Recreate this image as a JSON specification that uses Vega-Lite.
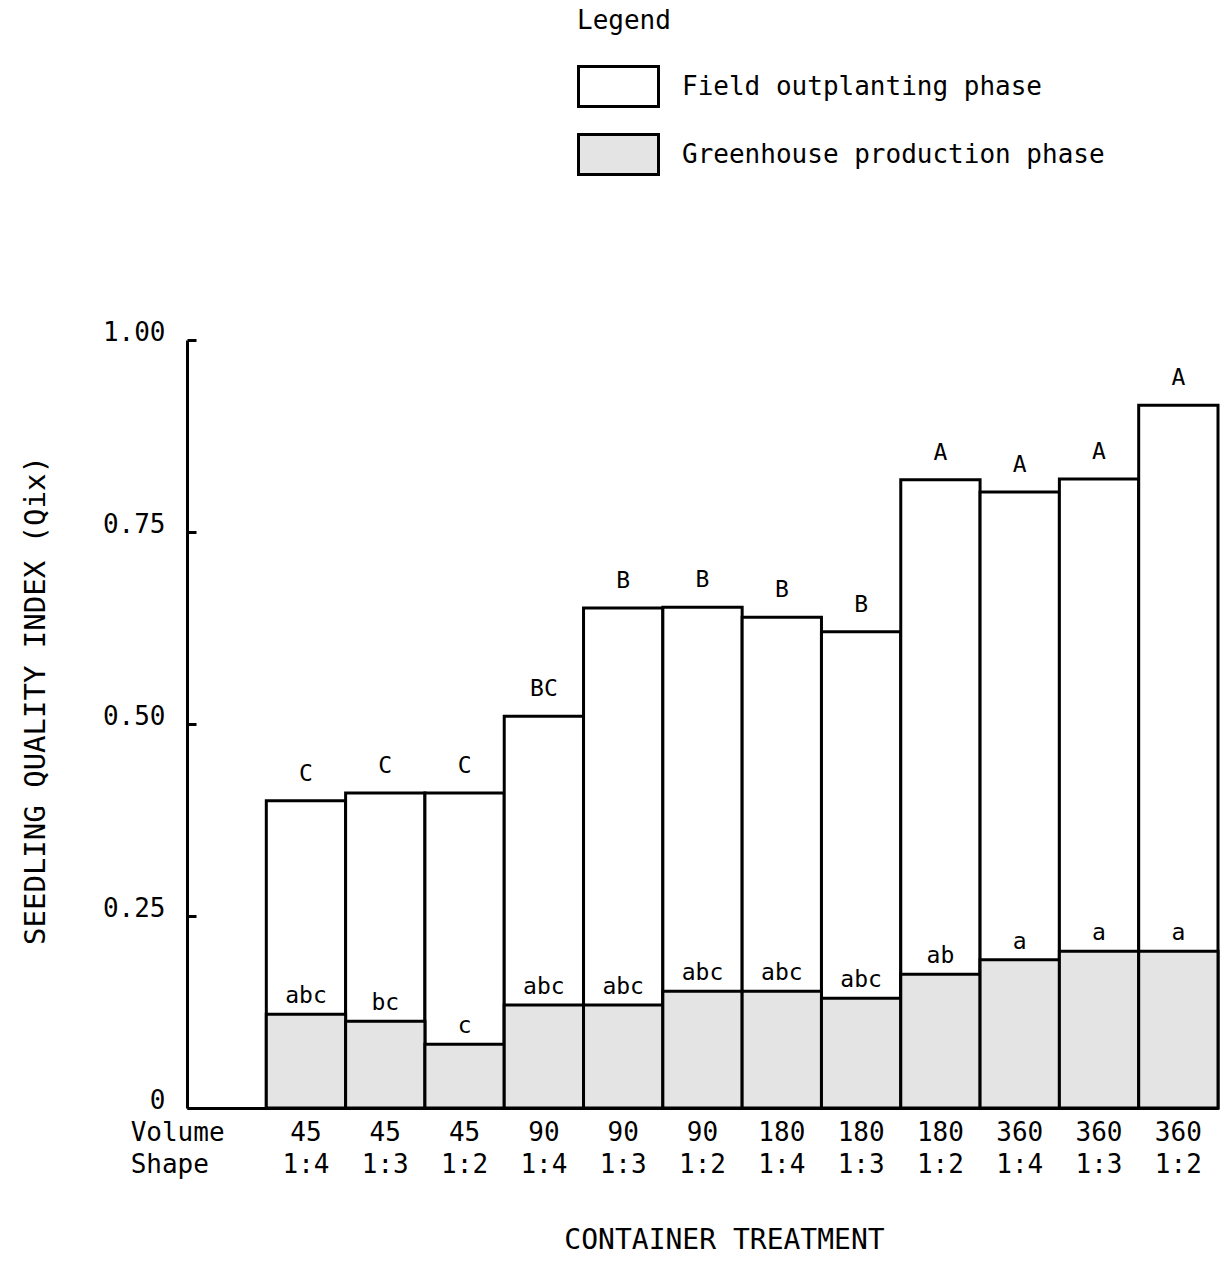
{
  "$schema": "https://vega.github.io/schema/vega-lite/v6.json",
  "width": 1031,
  "height": 768,
  "autosize": {"type": "none"},
  "padding": {"left": 187, "top": 340, "right": 12, "bottom": 153},
  "background": "white",
  "config": {"view": {"stroke": null}, "font": "DejaVu Sans Mono"},
  "data": {
    "values": [
      {"treatment": "45|1:4", "total": 0.40, "greenhouse": 0.122, "field_group": "C", "gh_group": "abc"},
      {"treatment": "45|1:3", "total": 0.41, "greenhouse": 0.113, "field_group": "C", "gh_group": "bc"},
      {"treatment": "45|1:2", "total": 0.41, "greenhouse": 0.083, "field_group": "C", "gh_group": "c"},
      {"treatment": "90|1:4", "total": 0.51, "greenhouse": 0.134, "field_group": "BC", "gh_group": "abc"},
      {"treatment": "90|1:3", "total": 0.651, "greenhouse": 0.134, "field_group": "B", "gh_group": "abc"},
      {"treatment": "90|1:2", "total": 0.652, "greenhouse": 0.152, "field_group": "B", "gh_group": "abc"},
      {"treatment": "180|1:4", "total": 0.639, "greenhouse": 0.152, "field_group": "B", "gh_group": "abc"},
      {"treatment": "180|1:3", "total": 0.62, "greenhouse": 0.143, "field_group": "B", "gh_group": "abc"},
      {"treatment": "180|1:2", "total": 0.818, "greenhouse": 0.174, "field_group": "A", "gh_group": "ab"},
      {"treatment": "360|1:4", "total": 0.802, "greenhouse": 0.193, "field_group": "A", "gh_group": "a"},
      {"treatment": "360|1:3", "total": 0.819, "greenhouse": 0.204, "field_group": "A", "gh_group": "a"},
      {"treatment": "360|1:2", "total": 0.915, "greenhouse": 0.204, "field_group": "A", "gh_group": "a"}
    ]
  },
  "encoding": {
    "x": {
      "field": "treatment",
      "type": "nominal",
      "sort": null,
      "scale": {
        "domain": ["Volume|Shape", "45|1:4", "45|1:3", "45|1:2", "90|1:4", "90|1:3", "90|1:2", "180|1:4", "180|1:3", "180|1:2", "360|1:4", "360|1:3", "360|1:2"],
        "paddingInner": 0,
        "paddingOuter": 0
      },
      "axis": {
        "title": "CONTAINER TREATMENT",
        "labelExpr": "split(datum.label, '|')",
        "labelAngle": 0,
        "ticks": false,
        "domainColor": "black",
        "domainWidth": 3,
        "labelFontSize": 26,
        "labelLineHeight": 32,
        "labelPadding": 11,
        "labelBaseline": "top",
        "labelColor": "black",
        "labelAlign": {"condition": {"test": "datum.value == 'Volume|Shape'", "value": "left"}, "value": "center"},
        "labelOffset": {"condition": {"test": "datum.value == 'Volume|Shape'", "value": -96}, "value": 0},
        "titleFontSize": 28,
        "titleFontWeight": "normal",
        "titleColor": "black",
        "titleX": 537,
        "titleY": 132,
        "titleBaseline": "middle",
        "titleAlign": "center"
      }
    }
  },
  "layer": [
    {
      "mark": {"type": "bar", "stroke": "black", "strokeWidth": 3},
      "encoding": {
        "y": {
          "field": "total",
          "type": "quantitative",
          "scale": {"domain": [0, 1], "nice": false},
          "axis": {
            "title": "SEEDLING QUALITY INDEX (Qix)",
            "values": [0, 0.25, 0.5, 0.75, 1],
            "labelExpr": "datum.value == 0 ? '0' : format(datum.value, '.2f')",
            "grid": false,
            "domainColor": "black",
            "domainWidth": 3,
            "tickColor": "black",
            "tickWidth": 3,
            "tickSize": -9,
            "labelPadding": 31,
            "labelFontSize": 26,
            "labelColor": "black",
            "labelBaseline": "alphabetic",
            "titleFontSize": 29,
            "titleFontWeight": "normal",
            "titleColor": "black",
            "titleAngle": 270,
            "titleX": -152,
            "titleY": 360,
            "titleAlign": "center",
            "titleBaseline": "middle"
          }
        },
        "color": {
          "datum": "Field outplanting phase",
          "type": "nominal",
          "scale": {
            "domain": ["Field outplanting phase", "Greenhouse production phase"],
            "range": ["white", "#e4e4e4"]
          },
          "legend": {
            "orient": "none",
            "legendX": 390,
            "legendY": -332,
            "title": "Legend",
            "titleFontSize": 26,
            "titleFontWeight": "normal",
            "titleColor": "black",
            "titlePadding": 11,
            "labelFontSize": 26,
            "labelColor": "black",
            "labelOffset": 22,
            "labelLimit": 0,
            "symbolType": "M-1,-0.5H1V0.5H-1Z",
            "symbolSize": 6400,
            "symbolStrokeColor": "black",
            "symbolStrokeWidth": 3,
            "rowPadding": -2
          }
        }
      }
    },
    {
      "mark": {"type": "bar", "stroke": "black", "strokeWidth": 3},
      "encoding": {
        "y": {"field": "greenhouse", "type": "quantitative"},
        "color": {"datum": "Greenhouse production phase", "type": "nominal"}
      }
    },
    {
      "mark": {"type": "text", "baseline": "alphabetic", "dy": -20, "fontSize": 23, "color": "black"},
      "encoding": {
        "y": {"field": "total", "type": "quantitative"},
        "text": {"field": "field_group"}
      }
    },
    {
      "mark": {"type": "text", "baseline": "alphabetic", "dy": -11, "fontSize": 23, "color": "black"},
      "encoding": {
        "y": {"field": "greenhouse", "type": "quantitative"},
        "text": {"field": "gh_group"}
      }
    }
  ]
}
